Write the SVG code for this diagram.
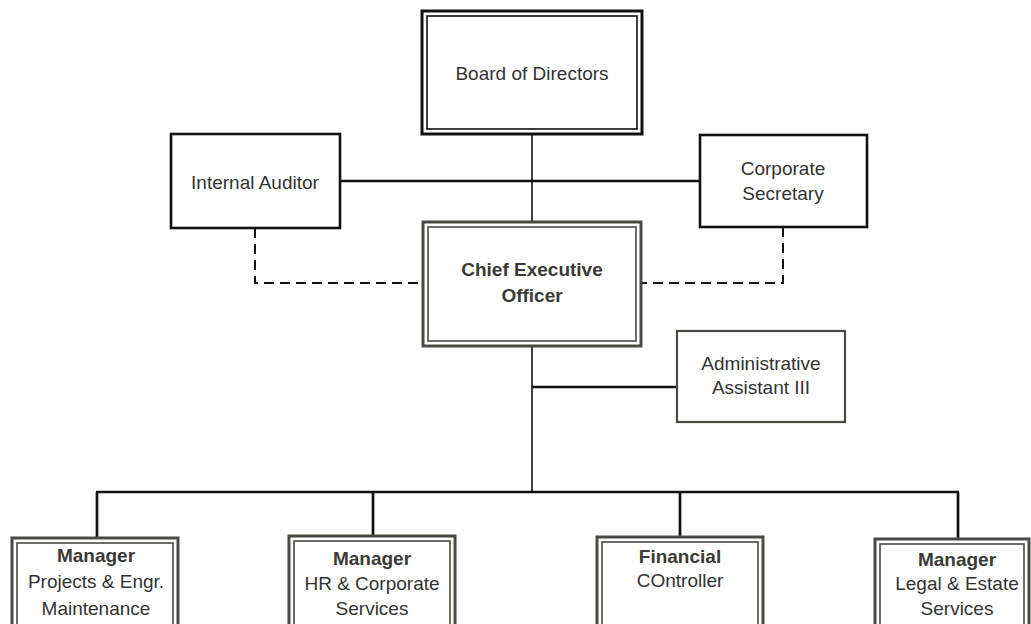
<svg xmlns="http://www.w3.org/2000/svg" width="1031" height="624" viewBox="0 0 1031 624">
<style>
text{font-family:"Liberation Sans",Arial,sans-serif;font-size:19px;fill:#333;text-anchor:middle}
.b{font-weight:bold;fill:#3a3a36}
.box{fill:#fff;stroke:#111;stroke-width:2.6}
.dbo{fill:#fff;stroke:#4a4a42;stroke-width:3}
.dbi{fill:none;stroke:#4a4a42;stroke-width:1.6}
.dbo.k,.dbi.k{stroke:#111}
.gbox{fill:#fff;stroke:#4a4a42;stroke-width:2.2}
.ln{stroke:#111;stroke-width:2.7;fill:none}
.thin{stroke:#111;stroke-width:1.6;fill:none}
.dash{stroke:#111;stroke-width:2;fill:none;stroke-dasharray:10 6}
</style>
<rect width="1031" height="624" fill="#fff"/>
<g id="connectors">
<line class="thin" x1="532" y1="135" x2="532" y2="222"/>
<line class="ln" x1="340" y1="181" x2="700" y2="181"/>
<polyline class="dash" points="255,228 255,283 422,283"/>
<polyline class="dash" points="783,227 783,283 642,283"/>
<line class="thin" x1="532" y1="347" x2="532" y2="493"/>
<line class="ln" x1="532" y1="387" x2="677" y2="387"/>
<line class="ln" x1="96" y1="492" x2="959" y2="492"/>
<line class="ln" x1="97" y1="492" x2="97" y2="537"/>
<line class="ln" x1="373" y1="492" x2="373" y2="535"/>
<line class="ln" x1="680" y1="492" x2="680" y2="536"/>
<line class="ln" x1="958" y1="492" x2="958" y2="538"/>
</g>
<g id="board">
<rect class="dbo k" x="422" y="11" width="220" height="123"/>
<rect class="dbi k" x="427" y="16" width="210" height="113"/>
<text x="532" y="80">Board of Directors</text>
</g>
<g id="auditor">
<rect class="box" x="171" y="134" width="169" height="94"/>
<text x="255" y="189">Internal Auditor</text>
</g>
<g id="secretary">
<rect class="box" x="700" y="135" width="167" height="92"/>
<text x="783" y="175">Corporate</text>
<text x="783" y="200">Secretary</text>
</g>
<g id="ceo">
<rect class="dbo" x="423" y="222" width="218" height="124"/>
<rect class="dbi" x="428" y="227" width="208" height="114"/>
<text class="b" x="532" y="276">Chief Executive</text>
<text class="b" x="532" y="302">Officer</text>
</g>
<g id="admin">
<rect class="gbox" x="677" y="331" width="168" height="91"/>
<text x="761" y="370">Administrative</text>
<text x="761" y="394">Assistant III</text>
</g>
<g id="mgr-projects">
<rect class="dbo" x="12" y="538" width="166" height="100"/>
<rect class="dbi" x="17" y="543" width="156" height="90"/>
<text class="b" x="96" y="562">Manager</text>
<text x="96" y="588">Projects &amp; Engr.</text>
<text x="96" y="615">Maintenance</text>
</g>
<g id="mgr-hr">
<rect class="dbo" x="289" y="536" width="166" height="100"/>
<rect class="dbi" x="294" y="541" width="156" height="90"/>
<text class="b" x="372" y="565">Manager</text>
<text x="372" y="590">HR &amp; Corporate</text>
<text x="372" y="615">Services</text>
</g>
<g id="financial">
<rect class="dbo" x="597" y="537" width="166" height="100"/>
<rect class="dbi" x="602" y="542" width="156" height="90"/>
<text class="b" x="680" y="563">Financial</text>
<text x="680" y="587">COntroller</text>
</g>
<g id="mgr-legal">
<rect class="dbo" x="875" y="539" width="154" height="100"/>
<rect class="dbi" x="880" y="544" width="144" height="90"/>
<text class="b" x="957" y="566">Manager</text>
<text x="957" y="590">Legal &amp; Estate</text>
<text x="957" y="615">Services</text>
</g>
</svg>
